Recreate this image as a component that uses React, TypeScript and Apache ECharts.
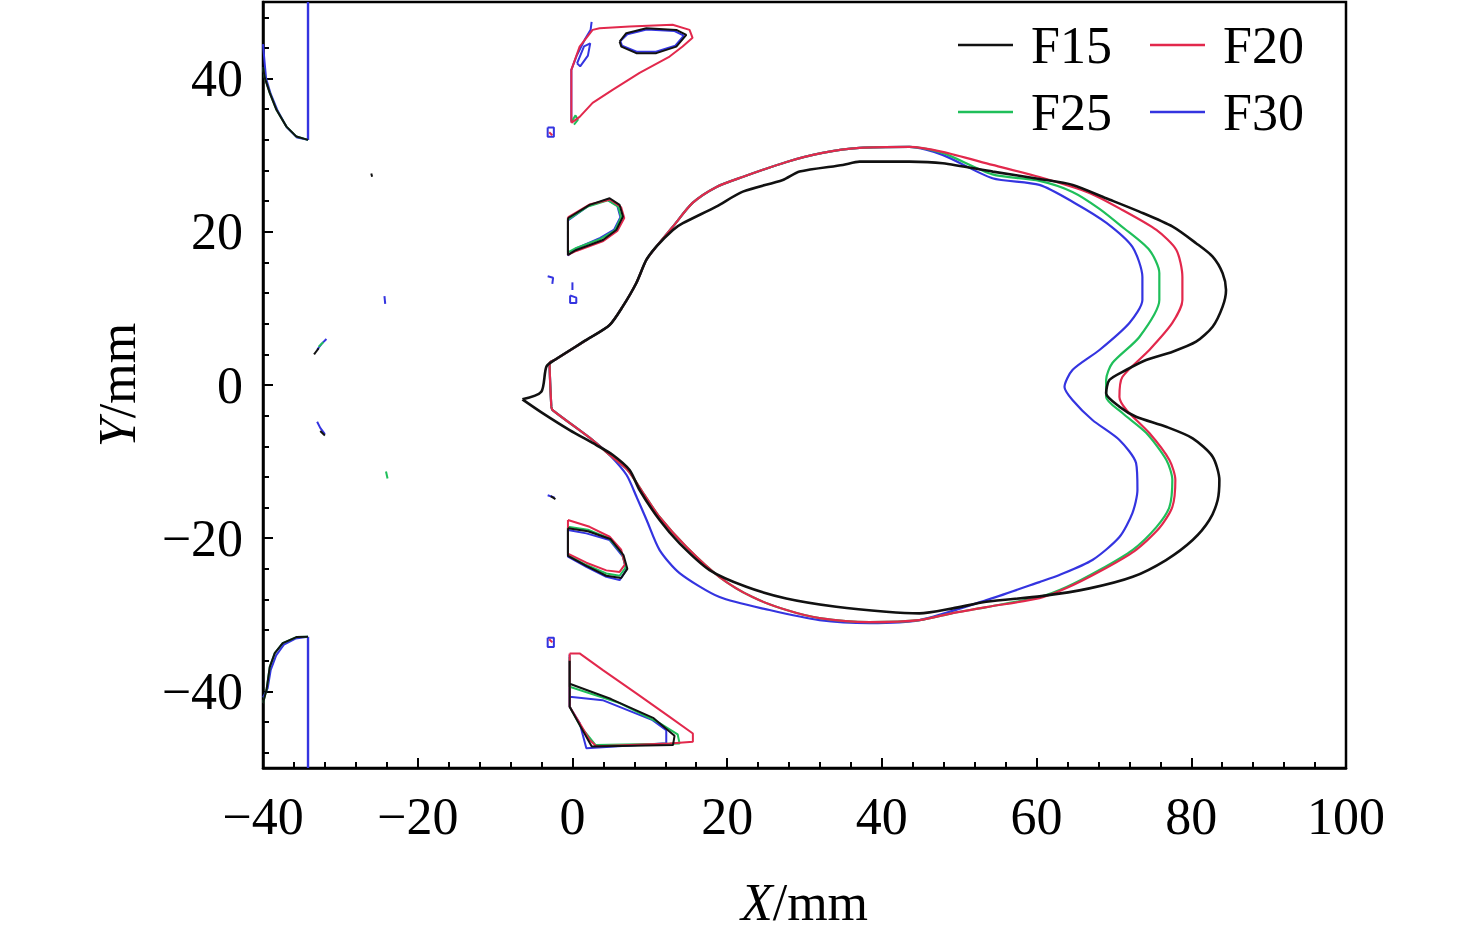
import React, { useEffect, useRef } from "react";
import * as echarts from "echarts";

// ---------- axis ticks / labels ----------
const X_MIN = -40;
const X_MAX = 100;
const X_STEP = 20;
const Y_MIN = -50;
const Y_MAX = 50;
const Y_LABELS = [-40, -20, 0, 20, 40];
const Y_MINOR = [-48, -44, -36, -32, -28, -24, -16, -12, -8, -4, 4, 8, 12, 16, 24, 28, 32, 36, 44, 48];
const SERIES_NAMES = ["F15", "F20", "F25", "F30"];

// ---------- main contours ----------
const F15_MAIN = [
  [-6.47, -1.87], [-4.02, -0.87], [-3.37, 2.39], [-2.3, 3.26], [1.8, 5.88], [4.81, 7.84], [6.49, 10.23],
  [8.26, 13.32], [9.55, 16.32], [10.84, 18.06], [12.99, 20.24], [14.28, 21.12], [18.59, 23.29], [22.03, 25.24],
  [27.2, 26.77], [29.36, 27.86], [34.95, 28.73], [37.11, 29.16], [43.57, 29.16], [47.87, 28.95], [54.34, 27.86],
  [60.37, 26.9], [64.67, 26.12], [68.99, 24.38], [73.29, 22.63], [77.59, 20.67], [80.62, 18.51], [82.76, 16.76],
  [84.05, 14.59], [84.49, 12.41], [84.05, 10.23], [82.76, 7.61], [80.62, 5.65], [77.59, 4.35], [74.16, 3.27],
  [71.57, 1.96], [69.41, 0.65], [68.99, -1.08], [70.71, -2.83], [72.86, -4.14], [76.74, -5.45], [80.18, -6.96],
  [82.76, -9.36], [83.63, -12.41], [83.41, -15.02], [82.34, -17.63], [80.18, -20.24], [76.74, -22.85],
  [72.43, -25.04], [66.83, -26.55], [60.63, -27.56], [53.48, -28.3], [49.17, -29.16], [44.86, -29.82],
  [40.56, -29.61], [34.1, -28.95], [27.64, -27.86], [22.47, -26.34], [17.73, -24.16], [13.85, -20.67],
  [11.27, -17.63], [8.68, -13.71], [7.39, -11.1], [5.23, -9.14], [3.09, -7.84], [-0.36, -5.88], [-3.81, -3.7],
  [-6.47, -1.87],
];

const COLORED_LEFT = [
  [-2.73, -2.83], [-2.95, 2.87], [-2.3, 3.26], [1.8, 5.88], [4.81, 7.84], [6.49, 10.23], [8.26, 13.32],
  [9.55, 16.32], [10.84, 18.06], [12.95, 20.63], [15.53, 23.77], [18.63, 25.86], [21.99, 27.16], [27.68, 29.12],
  [32.33, 30.3], [37.11, 30.95], [43.57, 31.08],
];

const F20_RIGHT = [
  [47.84, 30.43], [54.3, 28.73], [60.37, 27.16], [66.83, 25.07], [71.09, 22.85], [75.49, 20.24], [78.07, 17.63],
  [78.85, 14.1], [78.85, 11.1], [77.55, 8.1], [74.58, 4.57], [71.09, 1.04], [70.71, -1.57], [71.62, -3.26],
  [74.58, -6.27], [77.17, -9.79], [77.94, -12.41], [77.55, -15.93], [75.87, -18.68], [72.65, -21.68],
  [68.26, -24.29], [63.87, -26.51], [60.37, -27.82],
];

const F25_RIGHT = [
  [47.84, 30.3], [54.3, 27.5], [60.37, 26.64], [64.64, 25.2], [68.13, 23.0], [71.09, 20.63], [74.58, 17.63],
  [75.87, 14.63], [75.87, 11.1], [73.29, 6.27], [69.8, 2.87], [68.99, 0.65], [68.99, -1.57], [71.09, -3.66],
  [74.19, -6.27], [76.78, -9.79], [77.55, -12.41], [77.17, -15.93], [75.49, -18.55], [72.39, -21.55],
  [68.13, -24.16], [63.87, -26.38], [60.37, -27.69],
];

const COLORED_BOTTOM = [
  [53.52, -28.99], [49.13, -29.78], [44.86, -30.69], [38.4, -30.95], [31.94, -30.43], [27.68, -29.38],
  [23.28, -27.69], [19.02, -25.07], [14.75, -21.16], [11.27, -17.24], [9.07, -13.97], [7.13, -11.1],
  [4.81, -9.14], [2.61, -7.18], [-2.56, -3.27], [-2.73, -2.83],
];

const F30_RIGHT = [
  [47.84, 30.04], [54.3, 27.0], [60.37, 26.12], [64.91, 23.77], [69.03, 21.16], [72.39, 18.02], [73.68, 14.1],
  [73.68, 11.1], [72.0, 8.1], [68.13, 4.57], [64.64, 1.96], [63.61, -0.26], [64.64, -1.96], [67.22, -4.57],
  [70.71, -7.18], [72.86, -10.19], [73.04, -13.71], [72.39, -16.72], [70.71, -19.85], [67.22, -22.85],
  [62.95, -24.81], [60.37, -25.73], [53.52, -28.08], [44.86, -30.69], [38.4, -31.08], [31.94, -30.69],
  [25.48, -29.38], [19.02, -27.69], [13.85, -24.55], [11.27, -21.55], [9.59, -17.63], [8.3, -14.63],
  [7.0, -11.75], [4.81, -9.14], [2.61, -7.18], [-2.56, -3.27], [-2.73, -2.83],
];

// ---------- left edge pieces ----------
const CORNER_TOP = [[-40, 41.5], [-39.77, 40.09], [-39.13, 38.13], [-38.26, 35.92], [-36.97, 33.73], [-35.68, 32.43], [-34.18, 32.0]];
const CORNER_TOP_BLUE = [[-40, 44.5], [-39.8, 42.2], [-39.6, 40.0], [-39.0, 38.0], [-38.1, 35.8], [-36.9, 33.6], [-35.6, 32.3], [-34.18, 32.0]];
const VERT_TOP = [[-34.18, 32.0], [-34.18, 50]];
const CORNER_BOTTOM = [[-34.18, -32.87], [-35.68, -32.91], [-37.45, -33.69], [-38.48, -35.0], [-39.13, -36.83], [-39.55, -39.83], [-40, -41.5]];
const CORNER_BOTTOM_BLUE = [[-34.18, -32.87], [-35.8, -33.1], [-37.3, -33.9], [-38.3, -35.3], [-39.0, -37.2], [-39.4, -39.6], [-40, -40.8]];
const VERT_BOTTOM = [[-34.18, -32.87], [-34.18, -50]];

// ---------- top island ----------
const TOP_TRIANGLE = [
  [-0.14, 34.22], [-0.14, 41.14], [0.93, 44.18], [2.61, 46.36], [3.51, 46.58], [7.39, 46.79], [12.95, 47.02],
  [15.14, 46.36], [15.53, 45.32], [14.24, 44.18], [12.56, 42.88], [8.68, 40.75], [5.19, 38.53], [2.61, 36.83],
  [0.93, 35.0], [-0.14, 34.22],
];
const TOP_ELLIPSE = [
  [6.1, 44.83], [6.96, 45.93], [9.55, 46.58], [13.43, 46.36], [14.72, 45.71], [13.43, 44.18], [10.84, 43.32],
  [8.26, 43.32], [6.32, 44.18], [6.1, 44.83],
];
const TOP_ELLIPSE_B = [
  [6.2, 44.9], [7.1, 45.8], [9.6, 46.4], [13.2, 46.2], [14.4, 45.6], [13.3, 44.3], [10.8, 43.5],
  [8.3, 43.5], [6.4, 44.3], [6.2, 44.9],
];
const TOP_LEFT_BLUE = [[-0.14, 34.4], [-0.14, 41.14], [0.54, 42.97], [1.58, 45.06], [2.35, 46.36], [2.48, 47.41]];
const TOP_LEFT_LOOP = [[0.6, 42.0], [1.5, 44.2], [2.3, 44.6], [2.0, 43.0], [1.0, 41.6], [0.6, 42.0]];
const TOP_LEFT_GREEN = [[-0.1, 34.4], [0.4, 35.2], [0.7, 34.6], [0.2, 34.0]];

// ---------- upper island near x = 0 ----------
const UPPER_F15 = [[-0.58, 21.77], [2.22, 23.51], [4.81, 24.38], [6.1, 23.51], [6.53, 21.98], [5.67, 20.24], [3.94, 18.93], [0.5, 17.63], [-0.58, 16.98], [-0.58, 21.77]];
const UPPER_F20 = [[-0.58, 21.9], [2.3, 23.6], [4.9, 24.2], [6.3, 23.2], [6.7, 21.8], [5.8, 20.1], [4.0, 18.8], [0.5, 17.5], [-0.58, 17.0], [-0.58, 21.9]];
const UPPER_F25 = [[-0.58, 21.6], [2.0, 23.3], [4.6, 24.1], [5.9, 23.3], [6.3, 21.9], [5.5, 20.2], [3.7, 19.1], [0.5, 17.9], [-0.58, 17.3], [-0.58, 21.6]];
const UPPER_F30 = [[-0.58, 21.5], [2.1, 23.4], [4.5, 24.2], [5.8, 23.4], [6.2, 21.9], [5.4, 20.3], [3.6, 19.2], [0.4, 17.8], [-0.58, 16.9], [-0.58, 21.5]];

// ---------- lower island near x = 0 ----------
const LOWER_F15 = [[-0.58, -18.7], [2.0, -19.1], [4.9, -20.1], [6.6, -22.2], [7.1, -24.0], [6.3, -25.2], [4.38, -24.9], [1.8, -23.6], [-0.58, -22.3], [-0.58, -18.7]];
const LOWER_F20 = [[-0.58, -17.63], [2.22, -18.51], [4.81, -19.81], [6.3, -21.5], [6.8, -23.4], [6.1, -24.4], [4.38, -24.2], [1.8, -23.2], [-0.58, -22.0], [-0.58, -17.63]];
const LOWER_F25 = [[-0.58, -18.5], [2.0, -18.9], [4.7, -20.0], [6.4, -22.0], [6.9, -23.8], [6.1, -24.9], [4.38, -24.6], [1.8, -23.5], [-0.58, -22.2], [-0.58, -18.5]];
const LOWER_F30 = [[-0.58, -18.94], [1.8, -19.37], [4.81, -20.24], [6.53, -22.42], [6.96, -24.16], [6.1, -25.47], [4.38, -25.04], [1.8, -23.73], [-0.58, -22.42], [-0.58, -18.94]];

// ---------- lowest island ----------
const LOWEST_F15 = [[-0.36, -36.0], [-0.36, -42.0], [1.0, -44.5], [2.5, -47.2], [13.0, -47.0], [13.2, -45.8], [10.5, -43.5], [5.0, -41.0], [-0.36, -39.0]];
const LOWEST_F20 = [[-0.36, -35.04], [0.93, -35.04], [3.94, -37.22], [8.26, -40.26], [12.56, -43.32], [15.57, -45.49], [15.57, -46.58], [12.56, -46.79], [3.09, -47.15], [2.22, -46.36], [0.93, -44.14], [-0.36, -42.01], [-0.36, -35.04]];
const LOWEST_F25 = [[-0.36, -35.5], [-0.36, -39.4], [6.1, -41.53], [11.27, -44.14], [13.6, -45.6], [13.85, -46.79], [3.0, -47.0], [1.0, -44.5], [-0.36, -42.0]];
const LOWEST_F30 = [[-0.36, -35.2], [-0.36, -42.0], [0.93, -44.14], [1.8, -47.41], [12.13, -46.76], [12.13, -45.06], [10.36, -43.75], [3.9, -41.14], [-0.36, -40.71]];

// ---------- tiny marks ----------
const MARKS_F15 = [
  [[-33.4, 4.0], [-32.8, 4.8]], [[-32.6, -6.0], [-32.0, -6.6]], [[-26.0, 27.6], [-25.9, 27.2]], [[-2.8, -14.5], [-2.2, -14.9]],
];
const MARKS_F20 = [[[-3.0, 33.0], [-2.6, 32.6]], [[-3.0, -33.2], [-2.6, -33.6]]];
const MARKS_F25 = [[[-24.1, -11.3], [-23.9, -12.2]], [[-32.8, 5.0], [-32.2, 5.6]]];
const MARKS_F30 = [
  [[-3.2, 33.6], [-2.4, 33.6], [-2.4, 32.4], [-3.2, 32.4], [-3.2, 33.6]],
  [[-3.2, 14.2], [-2.5, 14.0], [-2.6, 13.2]],
  [[0, 13.4], [0, 12.4]],
  [[-0.3, 11.7], [0.5, 11.4], [0.5, 10.7], [-0.3, 10.7], [-0.3, 11.7]],
  [[-24.3, 11.6], [-24.2, 10.6]],
  [[-33.0, 4.6], [-32.4, 5.4], [-31.8, 6.0]],
  [[-33.0, -4.8], [-32.6, -5.6], [-32.0, -6.4]],
  [[-3.2, -14.4], [-2.3, -14.7]],
  [[-3.2, -33.0], [-2.4, -33.0], [-2.4, -34.2], [-3.2, -34.2], [-3.2, -33.0]],
];

const COLORS: Record<string, string> = { F15: "#111111", F20: "#e2284c", F25: "#1fbf5a", F30: "#3434e0" };
const FONT = "'Liberation Serif', 'Times New Roman', serif";

function buildSeries() {
  const pieces: Record<string, { data: number[][]; smooth?: boolean; w?: number }[]> = {
    F30: [
      { data: [...COLORED_LEFT, ...F30_RIGHT], smooth: true, w: 2.2 },
      { data: CORNER_TOP_BLUE }, { data: VERT_TOP, w: 2.4 }, { data: CORNER_BOTTOM_BLUE }, { data: VERT_BOTTOM, w: 2.4 },
      { data: TOP_ELLIPSE_B }, { data: TOP_LEFT_BLUE }, { data: TOP_LEFT_LOOP },
      { data: UPPER_F30 }, { data: LOWER_F30 }, { data: LOWEST_F30 },
      ...MARKS_F30.map((m) => ({ data: m })),
    ],
    F25: [
      { data: [...COLORED_LEFT, ...F25_RIGHT, ...COLORED_BOTTOM], smooth: true, w: 2.2 },
      { data: CORNER_TOP }, { data: CORNER_BOTTOM }, { data: TOP_LEFT_GREEN },
      { data: UPPER_F25 }, { data: LOWER_F25 }, { data: LOWEST_F25 },
      ...MARKS_F25.map((m) => ({ data: m })),
    ],
    F20: [
      { data: [...COLORED_LEFT, ...F20_RIGHT, ...COLORED_BOTTOM], smooth: true, w: 2.2 },
      { data: TOP_TRIANGLE }, { data: UPPER_F20 }, { data: LOWER_F20 }, { data: LOWEST_F20 },
      ...MARKS_F20.map((m) => ({ data: m })),
    ],
    F15: [
      { data: F15_MAIN, smooth: true, w: 2.6 },
      { data: CORNER_TOP }, { data: CORNER_BOTTOM }, { data: TOP_ELLIPSE },
      { data: UPPER_F15 }, { data: LOWER_F15 }, { data: LOWEST_F15 },
      ...MARKS_F15.map((m) => ({ data: m })),
    ],
  };
  const out: any[] = [];
  ["F30", "F25", "F20", "F15"].forEach((name) => {
    const c = COLORS[name];
    pieces[name].forEach((p) => {
      out.push({
        type: "line",
        name,
        data: p.data,
        symbol: "none",
        showSymbol: false,
        smooth: p.smooth ? 0.25 : false,
        color: c,
        itemStyle: { color: c },
        lineStyle: { color: c, width: p.w ?? 2 },
        silent: true,
        emphasis: { disabled: true },
        animation: false,
      });
    });
  });
  return out;
}

const fmt = (v: number) => (v < 0 ? "\u2212" + Math.abs(v) : String(v));

export default function App() {
  const ref = useRef<HTMLDivElement>(null);
  useEffect(() => {
    if (!ref.current) return;
    const chart = echarts.init(ref.current, undefined, { renderer: "svg" });
    const labelStyle = { fontSize: 52, fontFamily: FONT, color: "#000" };
    const legendPos = [
      { name: SERIES_NAMES[0], left: 958, top: 15 },
      { name: SERIES_NAMES[1], left: 1150, top: 15 },
      { name: SERIES_NAMES[2], left: 958, top: 82 },
      { name: SERIES_NAMES[3], left: 1150, top: 82 },
    ];
    chart.setOption({
      animation: false,
      backgroundColor: "#fff",
      grid: { left: 263, top: 2, width: 1083, height: 766, show: true, borderColor: "#000", borderWidth: 2.5, backgroundColor: "transparent" },
      legend: legendPos.map((l) => ({
        data: [l.name],
        left: l.left,
        top: l.top,
        icon: "rect",
        itemWidth: 55,
        itemHeight: 2.5,
        selectedMode: false,
        padding: 0,
        textStyle: { fontSize: 52, fontFamily: FONT, color: "#000", lineHeight: 60, padding: [0, 0, 0, 13] },
      })),
      xAxis: {
        type: "value",
        min: X_MIN,
        max: X_MAX,
        interval: X_STEP,
        axisLine: { show: true, onZero: false, lineStyle: { color: "#000", width: 2.5 } },
        axisTick: { show: true, inside: true, length: 10, lineStyle: { color: "#000", width: 2 } },
        minorTick: { show: true, splitNumber: 5, length: 6, lineStyle: { color: "#000", width: 2 } },
        splitLine: { show: false },
        axisLabel: { ...labelStyle, margin: 22, formatter: fmt },
        name: "{i|X}/mm",
        nameLocation: "middle",
        nameGap: 108,
        nameTextStyle: { ...labelStyle, rich: { i: { ...labelStyle, fontStyle: "italic" } } },
      },
      yAxis: [
        {
          type: "value",
          min: Y_MIN,
          max: Y_MAX,
          position: "left",
          axisLine: { show: true, onZero: false, lineStyle: { color: "#000", width: 2.5 } },
          axisTick: { show: true, inside: true, length: 10, lineStyle: { color: "#000", width: 2 }, customValues: Y_LABELS },
          splitLine: { show: false },
          axisLabel: { ...labelStyle, margin: 20, formatter: fmt, customValues: Y_LABELS },
          name: "{i|Y}/mm",
          nameLocation: "middle",
          nameGap: 120,
          nameRotate: 90,
          nameTextStyle: { ...labelStyle, rich: { i: { ...labelStyle, fontStyle: "italic" } } },
        },
        {
          type: "value",
          min: Y_MIN,
          max: Y_MAX,
          position: "left",
          axisLine: { show: false, onZero: false },
          axisTick: { show: true, inside: true, length: 6, lineStyle: { color: "#000", width: 2 }, customValues: Y_MINOR },
          axisLabel: { show: false },
          splitLine: { show: false },
        },
      ],
      series: buildSeries(),
    });
    return () => chart.dispose();
  }, []);
  return <div ref={ref} style={{ position: "absolute", left: 0, top: 0, width: 1476, height: 940 }} />;
}
